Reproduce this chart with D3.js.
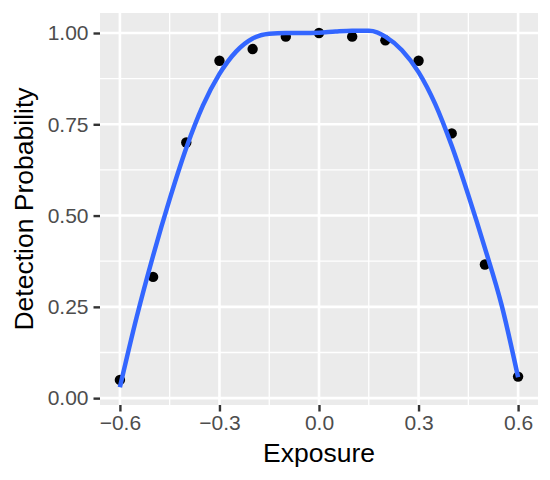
<!DOCTYPE html>
<html>
<head>
<meta charset="utf-8">
<script src="https://cdn.jsdelivr.net/npm/d3@7"></script>
<style>
  body { margin: 0; background: #fff; }
  svg { display: block; font-family: 'Liberation Sans', Arial, sans-serif; }
</style>
</head>
<body>
<div id="chart"></div>
<script>
// observed detection rates
const exposure = [-0.6, -0.5, -0.4, -0.3, -0.2, -0.1, 0, 0.1, 0.2, 0.3, 0.4, 0.5, 0.6];
const detection = [0.050, 0.332, 0.700, 0.924, 0.956, 0.990, 1.000, 0.990, 0.980, 0.924, 0.725, 0.366, 0.059];

// smoothed fit
const smoothX = [-0.6, -0.55, -0.5, -0.45, -0.4, -0.35, -0.3, -0.25, -0.2, -0.15, -0.1, -0.05,
  0, 0.05, 0.1, 0.15, 0.175, 0.2, 0.25, 0.3, 0.35, 0.4, 0.45, 0.5, 0.55, 0.6];
const smoothY = [0.030, 0.220, 0.390, 0.545, 0.685, 0.801, 0.888, 0.949, 0.985, 0.998, 1.000, 1.000,
  1.001, 1.004, 1.006, 1.006, 1.002, 0.990, 0.953, 0.893, 0.806, 0.691, 0.556, 0.411, 0.256, 0.057];

const xTicks = [-0.6, -0.3, 0, 0.3, 0.6];
const xMinor = [-0.45, -0.15, 0.15, 0.45];
const yTicks = [0, 0.25, 0.5, 0.75, 1];
const yMinor = [0.125, 0.375, 0.625, 0.875];

const width = 550;
const height = 480;
const margin = {top: 13, right: 12, bottom: 75, left: 100};
const pw = width - margin.left - margin.right;
const ph = height - margin.top - margin.bottom;

const xExt = d3.extent(exposure);
const xPad = (xExt[1] - xExt[0]) * 0.05;
const yLo = Math.min(d3.min(detection), d3.min(smoothY));
const yHi = Math.max(d3.max(detection), d3.max(smoothY));
const yPad = (yHi - yLo) * 0.05;

const x = d3.scaleLinear().domain([xExt[0] - xPad, xExt[1] + xPad]).range([0, pw]);
const y = d3.scaleLinear().domain([yLo - yPad, yHi + yPad]).range([ph, 0]);

const svg = d3.select('#chart')
    .append('svg')
    .attr('width', width)
    .attr('height', height);

const g = svg.append('g')
    .attr('transform', `translate(${margin.left}, ${margin.top})`);

g.append('rect')
    .attr('width', pw)
    .attr('height', ph)
    .attr('fill', '#ebebeb');

// grid
g.selectAll('.xminor').data(xMinor).enter().append('line')
    .attr('x1', (d) => x(d)).attr('x2', (d) => x(d))
    .attr('y1', 0).attr('y2', ph)
    .attr('stroke', '#fff').attr('stroke-width', 1.3);
g.selectAll('.yminor').data(yMinor).enter().append('line')
    .attr('y1', (d) => y(d)).attr('y2', (d) => y(d))
    .attr('x1', 0).attr('x2', pw)
    .attr('stroke', '#fff').attr('stroke-width', 1.3);
g.selectAll('.xmajor').data(xTicks).enter().append('line')
    .attr('x1', (d) => x(d)).attr('x2', (d) => x(d))
    .attr('y1', 0).attr('y2', ph)
    .attr('stroke', '#fff').attr('stroke-width', 2.6);
g.selectAll('.ymajor').data(yTicks).enter().append('line')
    .attr('y1', (d) => y(d)).attr('y2', (d) => y(d))
    .attr('x1', 0).attr('x2', pw)
    .attr('stroke', '#fff').attr('stroke-width', 2.6);

// axes
const fmtX = (d) => d3.format('.1f')(d).replace('-', '\u2212');
const xAxis = g.append('g')
    .attr('transform', `translate(0, ${ph})`)
    .call(d3.axisBottom(x).tickValues(xTicks).tickSize(6.5).tickPadding(4).tickFormat(fmtX));
const yAxis = g.append('g')
    .call(d3.axisLeft(y).tickValues(yTicks).tickSize(6.5).tickPadding(5).tickFormat(d3.format('.2f')));

[xAxis, yAxis].forEach((a) => {
  a.select('.domain').remove();
  a.selectAll('.tick line').attr('stroke', '#333').attr('stroke-width', 2.4);
  a.selectAll('.tick text')
      .attr('fill', '#4d4d4d')
      .style('font-size', '21px')
      .style('font-family', "'Liberation Sans', Arial, sans-serif");
});

// smooth line
const line = d3.line()
    .x((d, i) => x(smoothX[i]))
    .y((d) => y(d))
    .curve(d3.curveMonotoneX);

// points
g.selectAll('.pt').data(detection).enter().append('circle')
    .attr('cx', (d, i) => x(exposure[i]))
    .attr('cy', (d) => y(d))
    .attr('r', 5.2)
    .attr('fill', '#000');

g.append('path')
    .datum(smoothY)
    .attr('fill', 'none')
    .attr('stroke', '#3366ff')
    .attr('stroke-width', 4.5)
    .attr('stroke-linecap', 'butt')
    .attr('d', line);

// titles
svg.append('text')
    .attr('x', margin.left + pw / 2)
    .attr('y', 462)
    .attr('text-anchor', 'middle')
    .style('font-size', '26.5px')
    .attr('fill', '#000')
    .text('Exposure');

svg.append('text')
    .attr('transform', `translate(33, ${margin.top + ph / 2}) rotate(-90)`)
    .attr('text-anchor', 'middle')
    .style('font-size', '26.5px')
    .attr('fill', '#000')
    .text('Detection Probability');
</script>
</body>
</html>
